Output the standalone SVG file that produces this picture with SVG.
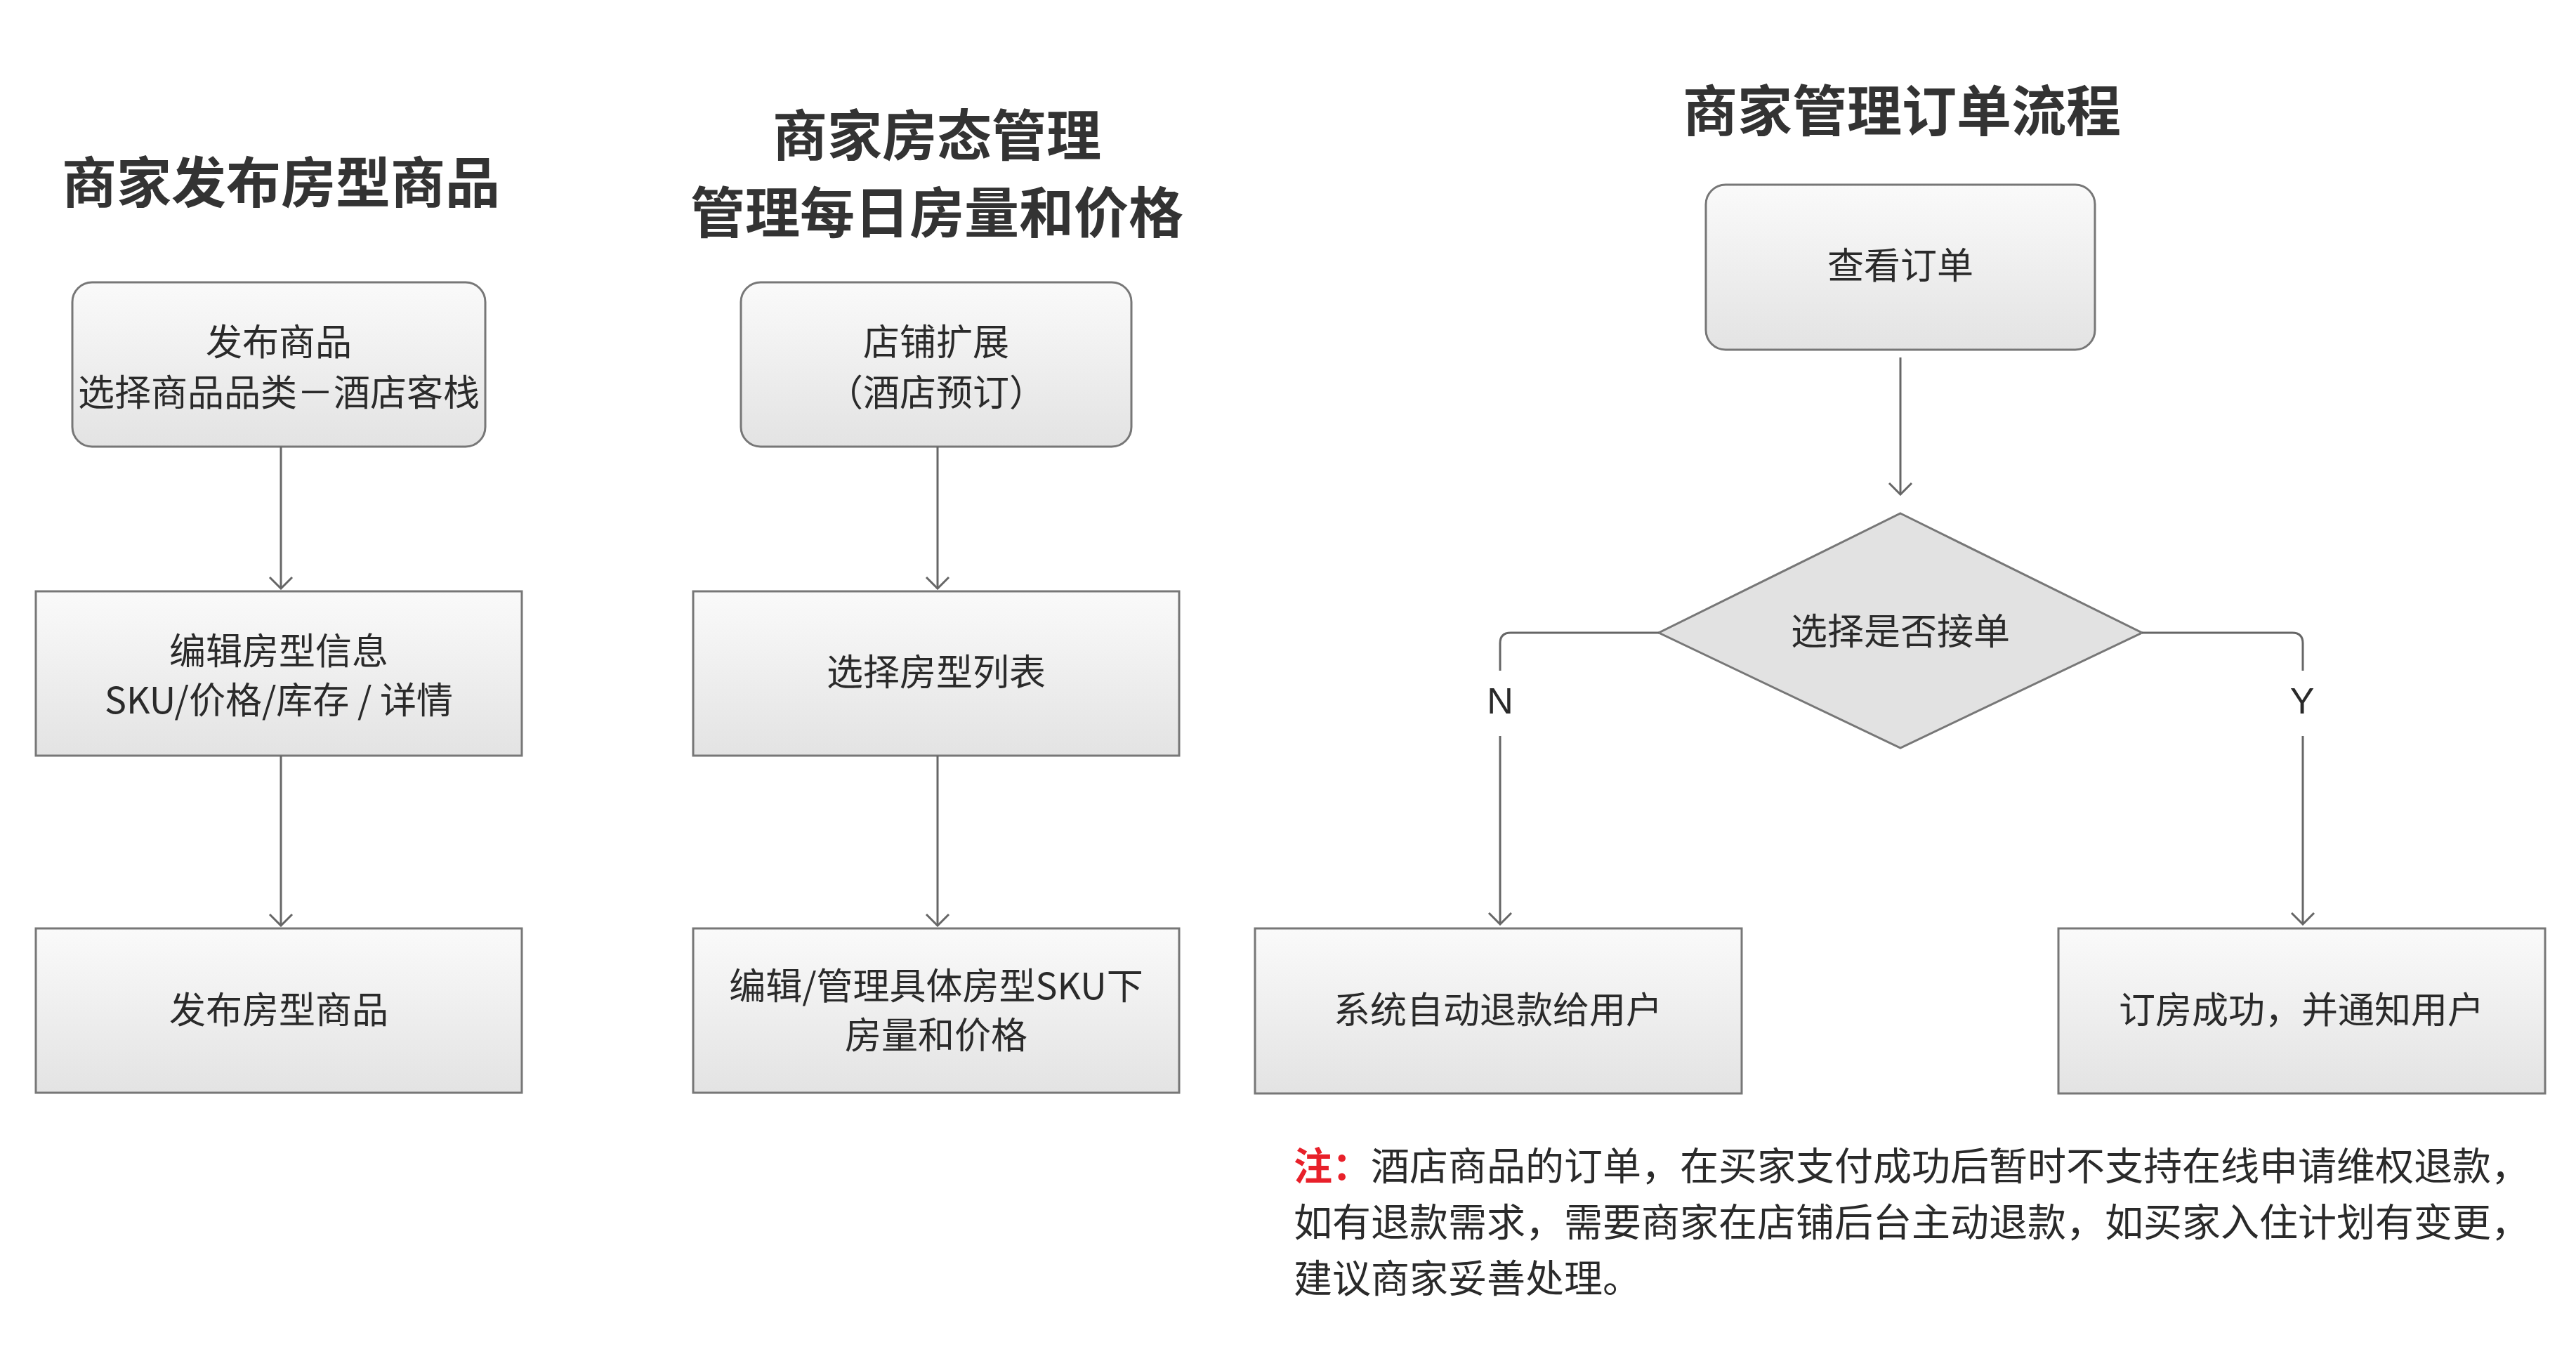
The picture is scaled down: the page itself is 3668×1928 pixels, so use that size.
<svg xmlns="http://www.w3.org/2000/svg" width="3668" height="1928" viewBox="0 0 3668 1928">
<defs>
<linearGradient id="g" x1="0" y1="0" x2="0" y2="1"><stop offset="0" stop-color="#fafafa"/><stop offset="1" stop-color="#e3e3e3"/></linearGradient>
<marker id="a" viewBox="0 0 40 40" refX="38" refY="20" markerWidth="40" markerHeight="40" markerUnits="userSpaceOnUse" orient="auto"><path d="M22,4 L38,20 L22,36" fill="none" stroke="#666" stroke-width="3"/></marker>
</defs>
<style>
.n{fill:url(#g);stroke:#777;stroke-width:3}
.d{fill:#e2e2e2;stroke:#777;stroke-width:3}
.t{font-family:"Noto Sans CJK SC","Liberation Sans",sans-serif;font-size:52px;fill:#2a2a2a;text-anchor:middle}
.h{font-family:"Noto Sans CJK SC",sans-serif;font-size:78px;font-weight:bold;fill:#333;text-anchor:middle}
.c{fill:none;stroke:#666;stroke-width:3}
.l{font-family:"Liberation Sans","Noto Sans CJK SC",sans-serif;font-size:52px;fill:#2a2a2a;text-anchor:middle}
.note{font-family:"Noto Sans CJK SC",sans-serif;font-size:55px;fill:#2a2a2a}
</style>
<rect width="3668" height="1928" fill="#fff"/>
<text class="h" x="400" y="289">商家发布房型商品</text>
<text class="h" x="1334" y="222">商家房态管理</text>
<text class="h" x="1334" y="332">管理每日房量和价格</text>
<text class="h" x="2708" y="187">商家管理订单流程</text>
<g id="n1"><rect class="n" x="103" y="402" width="588" height="234" rx="28"/><text class="t" x="397" y="506">发布商品</text><text class="t" x="397" y="578">选择商品品类－酒店客栈</text></g>
<g id="n2"><rect class="n" x="51" y="842" width="692" height="234"/><text class="t" x="397" y="946">编辑房型信息</text><text class="t" x="397" y="1016">SKU/价格/库存 / 详情</text></g>
<g id="n3"><rect class="n" x="51" y="1322" width="692" height="234"/><text class="t" x="397" y="1457">发布房型商品</text></g>
<g id="n4"><rect class="n" x="1055" y="402" width="556" height="234" rx="28"/><text class="t" x="1333" y="506">店铺扩展</text><text class="t" x="1333" y="578">（酒店预订）</text></g>
<g id="n5"><rect class="n" x="987" y="842" width="692" height="234"/><text class="t" x="1333" y="976">选择房型列表</text></g>
<g id="n6"><rect class="n" x="987" y="1322" width="692" height="234"/><text class="t" x="1333" y="1423">编辑/管理具体房型SKU下</text><text class="t" x="1333" y="1493">房量和价格</text></g>
<g id="n7"><rect class="n" x="2429" y="263" width="554" height="235" rx="28"/><text class="t" x="2706" y="397">查看订单</text></g>
<g id="n8"><polygon class="d" points="2706,731 3050,901 2706,1065 2362,901"/><text class="t" x="2706" y="918">选择是否接单</text></g>
<g id="n9"><rect class="n" x="1787" y="1322" width="693" height="235"/><text class="t" x="2133" y="1457">系统自动退款给用户</text></g>
<g id="n10"><rect class="n" x="2931" y="1322" width="693" height="235"/><text class="t" x="3277" y="1457">订房成功，并通知用户</text></g>
<g id="edges">
<line class="c" x1="400" y1="636" x2="400" y2="838" marker-end="url(#a)"/>
<line class="c" x1="400" y1="1076" x2="400" y2="1318" marker-end="url(#a)"/>
<line class="c" x1="1335" y1="636" x2="1335" y2="838" marker-end="url(#a)"/>
<line class="c" x1="1335" y1="1076" x2="1335" y2="1318" marker-end="url(#a)"/>
<line class="c" x1="2706" y1="509" x2="2706" y2="704" marker-end="url(#a)"/>
<path class="c" d="M2362,901 H2151 Q2136,901 2136,916 V955"/>
<path class="c" d="M2136,1048 V1316" marker-end="url(#a)"/>
<path class="c" d="M3050,901 H3264 Q3279,901 3279,916 V955"/>
<path class="c" d="M3279,1048 V1316" marker-end="url(#a)"/>
<text class="l" x="2136" y="1016">N</text>
<text class="l" x="3278" y="1016">Y</text>
</g>
<text class="note" x="1842" y="1680"><tspan fill="#e8202a" font-weight="bold">注：</tspan>酒店商品的订单，在买家支付成功后暂时不支持在线申请维权退款，</text>
<text class="note" x="1842" y="1760">如有退款需求，需要商家在店铺后台主动退款，如买家入住计划有变更，</text>
<text class="note" x="1842" y="1840">建议商家妥善处理。</text>
</svg>
